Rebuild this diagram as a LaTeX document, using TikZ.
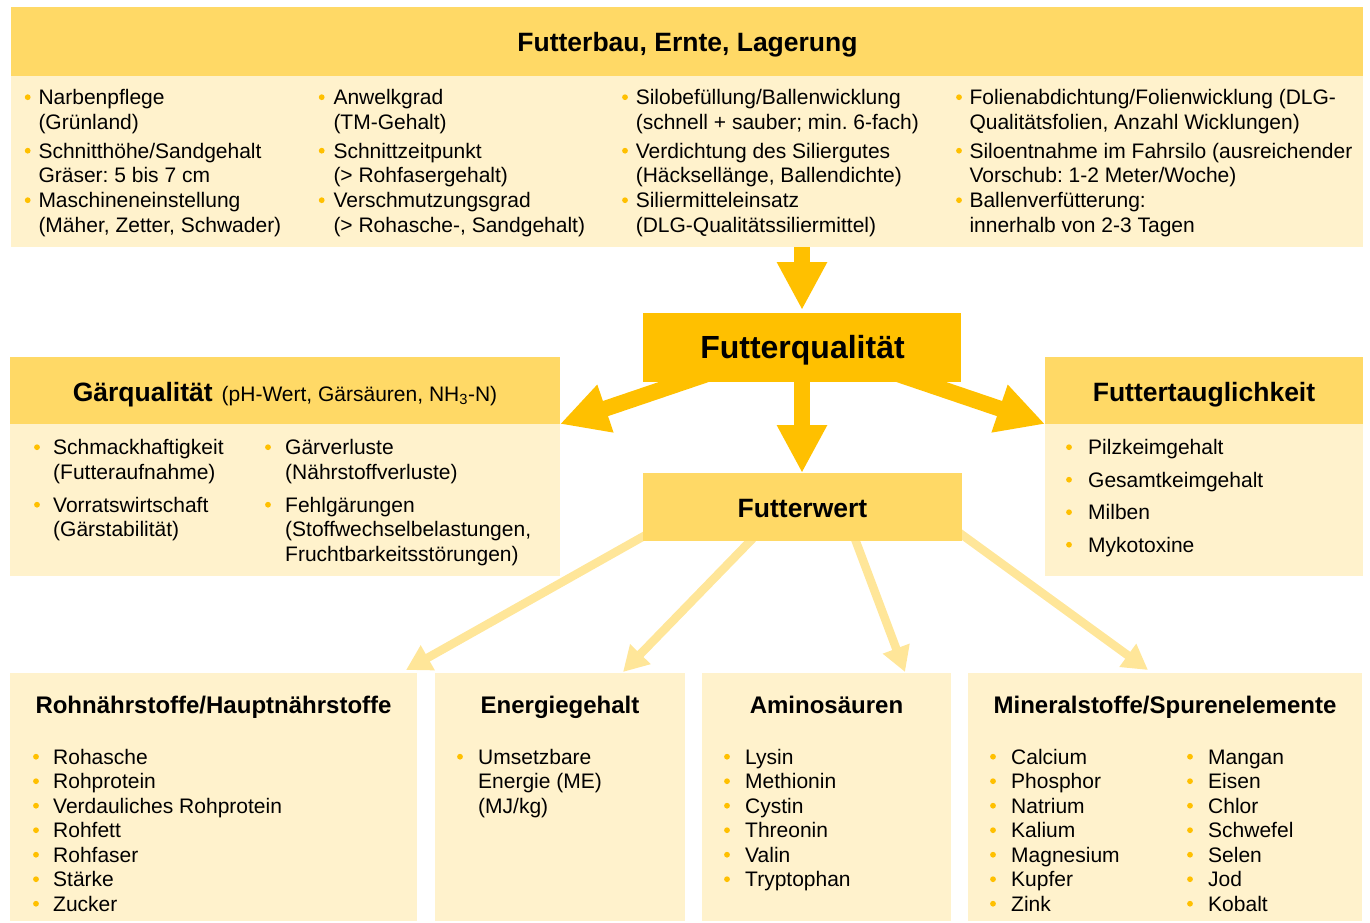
\documentclass[tikz,border=0pt]{standalone}
\usepackage{fontspec}
\setmainfont{Liberation Sans}
\usetikzlibrary{arrows.meta,calc,fit}
\definecolor{hdr}{HTML}{FFD966}
\definecolor{bdy}{HTML}{FFF2CC}
\definecolor{fqc}{HTML}{FFC000}
\definecolor{thinc}{HTML}{FFE699}
\pgfdeclarelayer{bg}
\pgfsetlayers{bg,main}
\frenchspacing
\newcommand\fbody{\fontsize{21}{24.5}\selectfont}
\newcommand\ftitle{\fontsize{26.5}{30}\selectfont\bfseries}
\newcommand\fbig{\fontsize{32}{36}\selectfont\bfseries}
\newcommand\fbot{\fontsize{24}{28}\selectfont\bfseries}
\tikzset{
 hdrbox/.style={fill=hdr, inner sep=0pt, outer sep=0pt},
 bdybox/.style={fill=bdy, inner sep=0pt, outer sep=0pt},
 fqbox/.style={fill=fqc, inner sep=0pt, outer sep=0pt},
 txt/.style={anchor=base west, inner sep=0pt, font=\fbody},
 ttl/.style={anchor=base, inner sep=0pt, font=\ftitle},
 bot/.style={anchor=base, inner sep=0pt, font=\fbot},
 bul/.style={fill=fqc},
 bigarrow/.style={draw=fqc, line width=16pt, -{Triangle[length=48pt,width=47pt]}},
 thinarrow/.style={draw=thinc, line width=8.5pt, -{Triangle[length=25pt,width=27pt]}},
}
\newcommand\Bu[2]{\fill[bul] (#1,#2-7.3) circle (2.9pt);}
\newcommand\Ln[4]{\node[txt] (#1) at (#2,#3) {#4};}
\begin{document}
\begin{tikzpicture}[x=1pt,y=-1pt]
\useasboundingbox (0,0) rectangle (1370,923);
% ---------- boxes ----------
\node[hdrbox, fit={(11,7) (1363,76)}] (toph) {};
\node[bdybox, fit={(11,76) (1363,247)}] (topb) {};
\node[fqbox, fit={(643,313) (961,382)}] (fq) {};
\node[hdrbox, fit={(643,473) (962,541)}] (fw) {};
\node[hdrbox, fit={(10,357) (560,424)}] (gqh) {};
\node[bdybox, fit={(10,424) (560,576)}] (gqb) {};
\node[hdrbox, fit={(1045,357) (1363,424)}] (fth) {};
\node[bdybox, fit={(1045,424) (1363,576)}] (ftb) {};
\node[bdybox, fit={(10,673) (417,921)}] (ra) {};
\node[bdybox, fit={(435,673) (685,921)}] (en) {};
\node[bdybox, fit={(702,673) (951,921)}] (am) {};
\node[bdybox, fit={(968,673) (1362,921)}] (mi) {};
% ---------- titles ----------
\node[ttl] (topt) at (687.5,51.5) {Futterbau, Ernte, Lagerung};
\node[anchor=base, inner sep=0pt, font=\fbig] (fqt) at (802.5,358) {Futterqualität};
\node[ttl] (fwt) at (802.5,517) {Futterwert};
\node[anchor=base, inner sep=0pt] (gqt) at (285,401.5) {{\ftitle Gärqualität}\hspace{9pt}{\fbody (pH-Wert, Gärsäuren, NH\textsubscript{3}-N)}};
\node[ttl] (ftt) at (1204,401.5) {Futtertauglichkeit};
\node[bot] (rat) at (213.5,713.5) {Rohnährstoffe/Hauptnährstoffe};
\node[bot] (ent) at (560,713.5) {Energiegehalt};
\node[bot] (amt) at (826.5,713.5) {Aminosäuren};
\node[bot] (mit) at (1165,713.5) {Mineralstoffe/Spurenelemente};
% ---------- top box items ----------
\Bu{27.7}{104.5}\Ln{a1}{38.3}{104.5}{Narbenpflege}
\Ln{a2}{38.3}{129}{(Grünland)}
\Bu{27.7}{158}\Ln{a3}{38.3}{158}{Schnitthöhe/Sandgehalt}
\Ln{a4}{38.3}{182.5}{Gräser: 5 bis 7 cm}
\Bu{27.7}{207.5}\Ln{a5}{38.3}{207.5}{Maschineneinstellung}
\Ln{a6}{38.3}{232}{(Mäher, Zetter, Schwader)}
\Bu{321.7}{104.5}\Ln{b1}{333.3}{104.5}{Anwelkgrad}
\Ln{b2}{333.3}{129}{(TM-Gehalt)}
\Bu{321.7}{158}\Ln{b3}{333.3}{158}{Schnittzeitpunkt}
\Ln{b4}{333.3}{182.5}{(> Rohfasergehalt)}
\Bu{321.7}{207.5}\Ln{b5}{333.3}{207.5}{Verschmutzungsgrad}
\Ln{b6}{333.3}{232}{(> Rohasche-, Sandgehalt)}
\Bu{625}{104.5}\Ln{c1}{635.6}{104.5}{Silobefüllung/Ballenwicklung}
\Ln{c2}{635.6}{129}{(schnell + sauber; min. 6-fach)}
\Bu{625}{158}\Ln{c3}{635.6}{158}{Verdichtung des Siliergutes}
\Ln{c4}{635.6}{182.5}{(Häcksellänge, Ballendichte)}
\Bu{625}{207.5}\Ln{c5}{635.6}{207.5}{Siliermitteleinsatz}
\Ln{c6}{635.6}{232}{(DLG-Qualitätssiliermittel)}
\Bu{959}{104.5}\Ln{d1}{969.3}{104.5}{Folienabdichtung/Folienwicklung (DLG-}
\Ln{d2}{969.3}{129}{Qualitätsfolien, Anzahl Wicklungen)}
\Bu{959}{158}\Ln{d3}{969.3}{158}{Siloentnahme im Fahrsilo (ausreichender}
\Ln{d4}{969.3}{182.5}{Vorschub: 1-2 Meter/Woche)}
\Bu{959}{207.5}\Ln{d5}{969.3}{207.5}{Ballenverfütterung:}
\Ln{d6}{969.3}{232}{innerhalb von 2-3 Tagen}
% ---------- Gärqualität items ----------
\Bu{37}{454.5}\Ln{g1}{53}{454.5}{Schmackhaftigkeit}
\Ln{g2}{53}{479}{(Futteraufnahme)}
\Bu{37}{512}\Ln{g3}{53}{512}{Vorratswirtschaft}
\Ln{g4}{53}{536.5}{(Gärstabilität)}
\Bu{268}{454.5}\Ln{g5}{285}{454.5}{Gärverluste}
\Ln{g6}{285}{479}{(Nährstoffverluste)}
\Bu{268}{512}\Ln{g7}{285}{512}{Fehlgärungen}
\Ln{g8}{285}{536.5}{(Stoffwechselbelastungen,}
\Ln{g9}{285}{561}{Fruchtbarkeitsstörungen)}
% ---------- Futtertauglichkeit items ----------
\foreach \t [count=\i from 0] in {Pilzkeimgehalt,Gesamtkeimgehalt,Milben,Mykotoxine}{
  \fill[bul] (1069,{454.5+32.5*\i-7.3}) circle (2.9pt);
  \node[txt] (ft\i) at (1088,{454.5+32.5*\i}) {\t};
}
% ---------- bottom items ----------
\foreach \t [count=\i from 0] in {Rohasche,Rohprotein,Verdauliches Rohprotein,Rohfett,Rohfaser,Stärke,Zucker}{
  \fill[bul] (36,{764+24.5*\i-7.3}) circle (2.9pt);
  \node[txt] (ri\i) at (53,{764+24.5*\i}) {\t};
}
\Bu{460}{764}\Ln{e1}{478}{764}{Umsetzbare}
\Ln{e2}{478}{788.5}{Energie (ME)}
\Ln{e3}{478}{813}{(MJ/kg)}
\foreach \t [count=\i from 0] in {Lysin,Methionin,Cystin,Threonin,Valin,Tryptophan}{
  \fill[bul] (727,{764+24.5*\i-7.3}) circle (2.9pt);
  \node[txt] (ai\i) at (745,{764+24.5*\i}) {\t};
}
\foreach \t [count=\i from 0] in {Calcium,Phosphor,Natrium,Kalium,Magnesium,Kupfer,Zink}{
  \fill[bul] (993,{764+24.5*\i-7.3}) circle (2.9pt);
  \node[txt] (mi\i) at (1011,{764+24.5*\i}) {\t};
}
\foreach \t [count=\i from 0] in {Mangan,Eisen,Chlor,Schwefel,Selen,Jod,Kobalt}{
  \fill[bul] (1190,{764+24.5*\i-7.3}) circle (2.9pt);
  \node[txt] (mj\i) at (1208,{764+24.5*\i}) {\t};
}
% ---------- connectors ----------
\begin{pgfonlayer}{bg}
\draw[bigarrow, shorten >=3pt] (topb.south -| fq.north) -- (fq.north);
\draw[bigarrow] (fq.south) -- (fq.south |- fw.north);
\draw[bigarrow] ($(fq.south)+(-90.5,-9.4)$) -- (gqh.south east);
\draw[bigarrow] ($(fq.south)+(91.5,-9.4)$) -- (fth.south west);
\draw[thinarrow] ($(fw.south west)+(17,-14)$) -- ($(ra.north east)+(-11,-3)$);
\draw[thinarrow] ($(fw.south)+(-42.5,-10)$) -- ($(en.north east)+(-62,-1)$);
\draw[thinarrow] ($(fw.south)+(49.5,-10)$) -- ($(am.north east)+(-46,-1)$);
\draw[thinarrow] ($(fw.south east)+(-12,-15)$) -- ($(mi.north west)+(180,-3)$);
\end{pgfonlayer}
\end{tikzpicture}
\end{document}
